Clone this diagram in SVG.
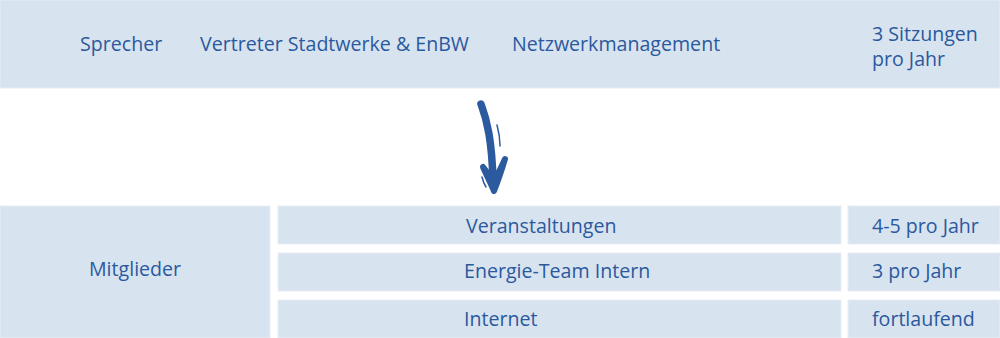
<svg xmlns="http://www.w3.org/2000/svg" width="1000" height="338" viewBox="0 0 1000 338">
<style>
.box{fill:#d8e3f0;stroke:#e6edf6;stroke-width:1}
.t{font-family:"Open Sans","Liberation Sans",sans-serif;font-size:19.6px;fill:#2b599d}
.shaft{fill:none;stroke:#2c5a9e;stroke-linecap:round;stroke-linejoin:round}
.sk{fill:none;stroke:#2c5a9e;stroke-width:1.5;stroke-linecap:round}
</style>
<rect width="1000" height="338" fill="#ffffff"/>
<g id="top">
<rect class="box" x="0" y="0" width="1000" height="88"/>
<text class="t" x="80" y="51">Sprecher</text>
<text class="t" x="200" y="51">Vertreter Stadtwerke &amp; EnBW</text>
<text class="t" x="512" y="51">Netzwerkmanagement</text>
<text class="t" x="872" y="41">3 Sitzungen</text>
<text class="t" x="872" y="66">pro Jahr</text>
</g>
<g id="connectors">
<path class="shaft" stroke-width="7.5" d="M481,104 C487,120 492,140 493,182"/>
<path class="shaft" stroke-width="6" fill="#2c5a9e" d="M483,167 C487,176 491,184 494,191 C498,181 502,169 505,159 C501,168 497,176 494,180 C490,176 486,171 483,167 Z"/>
<path class="sk" d="M497,125 C499,132 500,139 500,146"/>
<path class="sk" d="M482,177 C483,181 484,184 486,187"/>
</g>
<g id="mitglieder">
<rect class="box" x="0" y="206" width="270" height="132"/>
<text class="t" x="89" y="276">Mitglieder</text>
</g>
<g id="veranstaltungen">
<rect class="box" x="278" y="206" width="563" height="38"/>
<text class="t" x="466" y="233">Veranstaltungen</text>
</g>
<g id="energieteam">
<rect class="box" x="278" y="253" width="563" height="38"/>
<text class="t" x="464" y="278">Energie-Team Intern</text>
</g>
<g id="internet">
<rect class="box" x="278" y="300" width="563" height="38"/>
<text class="t" x="464" y="326">Internet</text>
</g>
<g id="freq1">
<rect class="box" x="848" y="206" width="152" height="38"/>
<text class="t" x="872" y="233">4-5 pro Jahr</text>
</g>
<g id="freq2">
<rect class="box" x="848" y="253" width="152" height="38"/>
<text class="t" x="872" y="278">3 pro Jahr</text>
</g>
<g id="freq3">
<rect class="box" x="848" y="300" width="152" height="38"/>
<text class="t" x="872" y="326">fortlaufend</text>
</g>
</svg>
